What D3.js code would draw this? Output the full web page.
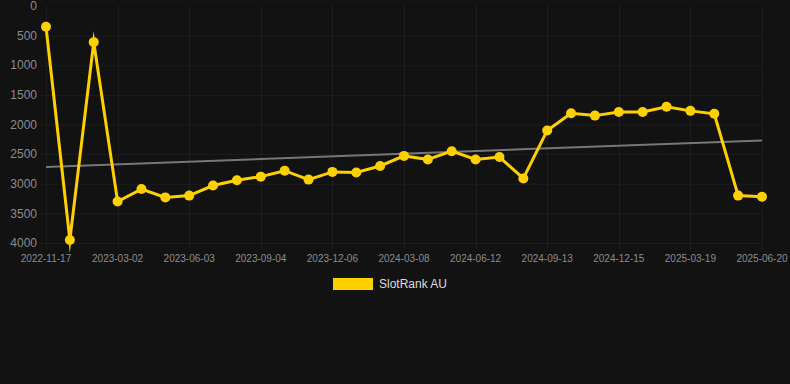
<!DOCTYPE html>
<html>
<head>
<meta charset="utf-8">
<script src="https://cdn.jsdelivr.net/npm/d3@7"></script>
<style>
  html, body { margin: 0; padding: 0; background: #121212; }
  svg { display: block; }
</style>
</head>
<body>
<div id="chart"></div>
<script>
// 数据
const dates = [
  "2022-11-17", "2022-12-22", "2023-01-26", "2023-03-02", "2023-04-02", "2023-05-03",
  "2023-06-03", "2023-07-04", "2023-08-04", "2023-09-04", "2023-10-05", "2023-11-05",
  "2023-12-06", "2024-01-06", "2024-02-06", "2024-03-08", "2024-04-09", "2024-05-11",
  "2024-06-12", "2024-07-13", "2024-08-13", "2024-09-13", "2024-10-14", "2024-11-14",
  "2024-12-15", "2025-01-15", "2025-02-15", "2025-03-19", "2025-04-19", "2025-05-20",
  "2025-06-20"
];
const ranks = [
  350, 3950, 610, 3300, 3090, 3230, 3200, 3030, 2940, 2880, 2780, 2930,
  2800, 2810, 2700, 2530, 2590, 2450, 2590, 2550, 2910, 2100, 1810, 1850,
  1790, 1790, 1700, 1770, 1820, 3200, 3220
];
const yTicks = [0, 500, 1000, 1500, 2000, 2500, 3000, 3500, 4000];
const seriesName = "SlotRank AU";

const width = 790, height = 384;
const margin = { top: 6, right: 28, bottom: 141, left: 46 };
const lineColor = "#ffd000";
const gridColor = "#1d1d1d";
const tickColor = "#8c8c8c";

const svg = d3.select("#chart")
  .append("svg")
  .attr("width", width)
  .attr("height", height);

svg.append("rect")
  .attr("width", width)
  .attr("height", height)
  .attr("fill", "#121212");

const x = d3.scalePoint()
  .domain(d3.range(dates.length))
  .range([margin.left, width - margin.right]);

const y = d3.scaleLinear()
  .domain([0, 4000])
  .range([margin.top, height - margin.bottom]);

// 网格
const grid = svg.append("g").attr("class", "grid");
grid.selectAll("line.h")
  .data(yTicks)
  .join("line")
  .attr("class", "h")
  .attr("x1", margin.left - 6)
  .attr("x2", width - margin.right)
  .attr("y1", (d) => y(d) + 0.5)
  .attr("y2", (d) => y(d) + 0.5)
  .attr("stroke", (d) => (d === 0 ? "#0c0c0c" : gridColor));

const xTickIdx = d3.range(0, dates.length, 3);
grid.selectAll("line.v")
  .data(xTickIdx)
  .join("line")
  .attr("class", "v")
  .attr("x1", (d) => Math.round(x(d)) + 0.5)
  .attr("x2", (d) => Math.round(x(d)) + 0.5)
  .attr("y1", margin.top)
  .attr("y2", height - margin.bottom + 6)
  .attr("stroke", gridColor);

// y 轴文字
svg.append("g")
  .attr("font-family", "'Liberation Sans', Arial, sans-serif")
  .attr("font-size", 12)
  .attr("fill", tickColor)
  .attr("text-anchor", "end")
  .selectAll("text")
  .data(yTicks)
  .join("text")
  .attr("x", margin.left - 9)
  .attr("y", (d) => y(d))
  .attr("dy", "0.35em")
  .text((d) => d);

// x 轴文字
svg.append("g")
  .attr("font-family", "'Liberation Sans', Arial, sans-serif")
  .attr("font-size", 10)
  .attr("fill", tickColor)
  .attr("text-anchor", "middle")
  .selectAll("text")
  .data(xTickIdx)
  .join("text")
  .attr("x", (d) => x(d))
  .attr("y", height - margin.bottom + 19)
  .text((d) => dates[d]);

// 趋势线 (最小二乘)
const idx = d3.range(ranks.length);
const mx = d3.mean(idx), my = d3.mean(ranks);
const slope = d3.sum(idx, (i) => (i - mx) * (ranks[i] - my)) /
  d3.sum(idx, (i) => (i - mx) * (i - mx));
const icpt = my - slope * mx;
const trend = [0, ranks.length - 1].map((i) => [i, icpt + slope * i]);

svg.append("path")
  .attr("d", d3.line().x((d) => x(d[0])).y((d) => y(d[1]))(trend))
  .attr("fill", "none")
  .attr("stroke", "#777777")
  .attr("stroke-width", 2);

// 折线
svg.append("path")
  .datum(ranks)
  .attr("d", d3.line().x((d, i) => x(i)).y((d) => y(d)))
  .attr("fill", "none")
  .attr("stroke", lineColor)
  .attr("stroke-width", 3)
  .attr("stroke-linejoin", "miter")
  .attr("stroke-miterlimit", 10);

svg.append("g")
  .selectAll("circle")
  .data(ranks)
  .join("circle")
  .attr("cx", (d, i) => x(i))
  .attr("cy", (d) => y(d))
  .attr("r", 5)
  .attr("fill", lineColor);

// 图例
const legend = svg.append("g")
  .attr("transform", `translate(333, 278)`);
legend.append("rect")
  .attr("width", 40)
  .attr("height", 12)
  .attr("fill", lineColor);
legend.append("text")
  .attr("x", 46)
  .attr("y", 6)
  .attr("dy", "0.35em")
  .attr("font-family", "'Liberation Sans', Arial, sans-serif")
  .attr("font-size", 12)
  .attr("fill", "#dddddd")
  .text(seriesName);
</script>
</body>
</html>
